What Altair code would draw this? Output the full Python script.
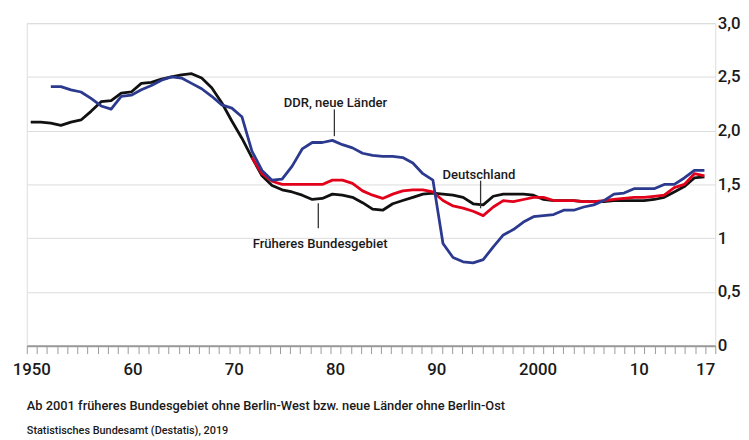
import altair as alt
import pandas as pd

# ---------------- data ----------------
years_west = list(range(1950, 2018))
west = [2.08, 2.08, 2.07, 2.05, 2.08, 2.10, 2.18, 2.27, 2.28, 2.35,
        2.36, 2.44, 2.45, 2.48, 2.50, 2.52, 2.53, 2.49, 2.40, 2.26,
        2.09, 1.93, 1.75, 1.58, 1.49, 1.45, 1.43, 1.40, 1.36, 1.37,
        1.41, 1.40, 1.38, 1.33, 1.27, 1.26, 1.32, 1.35, 1.38, 1.41,
        1.42, 1.41, 1.40, 1.38, 1.32, 1.31, 1.39, 1.41, 1.41, 1.41,
        1.40, 1.36, 1.35, 1.35, 1.35, 1.34, 1.34, 1.34, 1.35, 1.35,
        1.35, 1.35, 1.36, 1.38, 1.43, 1.48, 1.56, 1.57]

years_de = list(range(1972, 2018))
de = [1.75, 1.60, 1.53, 1.50, 1.50, 1.50, 1.50, 1.50,
      1.54, 1.54, 1.51, 1.44, 1.40, 1.37, 1.41, 1.44, 1.45, 1.45,
      1.43, 1.35, 1.30, 1.28, 1.25, 1.21, 1.29, 1.35, 1.34, 1.36,
      1.38, 1.38, 1.35, 1.35, 1.35, 1.34, 1.34, 1.35, 1.36, 1.37,
      1.38, 1.38, 1.39, 1.40, 1.47, 1.50, 1.60, 1.58]

years_east = list(range(1952, 2018))
east = [2.41, 2.41, 2.38, 2.36, 2.30, 2.23, 2.20, 2.32,
        2.33, 2.38, 2.42, 2.47, 2.50, 2.49, 2.44, 2.39, 2.32, 2.24,
        2.21, 2.13, 1.81, 1.63, 1.54, 1.55, 1.67, 1.83, 1.89, 1.89,
        1.91, 1.87, 1.84, 1.79, 1.77, 1.76, 1.76, 1.75, 1.70, 1.60,
        1.54, 0.95, 0.82, 0.78, 0.77, 0.80, 0.92, 1.03, 1.08, 1.15,
        1.20, 1.21, 1.22, 1.26, 1.26, 1.29, 1.31, 1.35, 1.41, 1.42,
        1.46, 1.46, 1.46, 1.50, 1.50, 1.56, 1.63, 1.63]

series_names = ["Früheres Bundesgebiet", "Deutschland", "DDR, neue Länder"]
series_colors = ["#111111", "#e2001a", "#2b3a8f"]

x_label_years = [1950, 1960, 1970, 1980, 1990, 2000, 2010, 2017]
x_label_texts = ["1950", "60", "70", "80", "90", "2000", "10", "17"]
y_ticks = [0, 0.5, 1, 1.5, 2, 2.5, 3]
y_tick_labels = ["0", "0,5", "1", "1,5", "2,0", "2,5", "3,0"]

ann_labels = ["DDR, neue Länder", "Deutschland", "Früheres Bundesgebiet"]
ann_year = [1980.3, 1994.57, 1978.78]
ann_value = [2.217, 1.554, 0.909]
lead_year = [1980.2, 1994.74, 1978.6]
lead_from = [2.198, 1.535, 1.324]
lead_to = [1.949, 1.278, 1.093]

footnote = "Ab 2001 früheres Bundesgebiet ohne Berlin-West bzw. neue Länder ohne Berlin-Ost"
source = "Statistisches Bundesamt (Destatis), 2019"

# ---------------- tables ----------------
df = pd.concat([
    pd.DataFrame({"year": years_west, "value": west, "series": series_names[0]}),
    pd.DataFrame({"year": years_de, "value": de, "series": series_names[1]}),
    pd.DataFrame({"year": years_east, "value": east, "series": series_names[2]}),
], ignore_index=True)

ann_df = pd.DataFrame({"year": ann_year, "value": ann_value, "label": ann_labels})
lead_df = pd.DataFrame({"year": lead_year, "value": lead_from, "value2": lead_to})

# ---------------- scales / axes ----------------
FONT = "Roboto"
TXT = "#1a1a1a"
X0, X1 = 1949.61, 2018.08
N_TICKS = 68
STEP = (X1 - X0) / N_TICKS
tick_vals = [X0 + k * STEP for k in range(N_TICKS + 1)]

k_expr = f"round((datum.value - {X0}) / {STEP})"
x_label_expr = " : ".join(
    f"{k_expr} == {y - 1950} ? '{t}'" for y, t in zip(x_label_years, x_label_texts)
) + " : ''"

y_label_expr = " : ".join(
    f"datum.value == {v} ? '{t}'" for v, t in zip(y_ticks, y_tick_labels)
) + " : ''"

x_enc = alt.X(
    "year:Q",
    title=None,
    scale=alt.Scale(domain=[X0, X1], nice=False, zero=False),
    axis=alt.Axis(
        values=tick_vals,
        labelExpr=x_label_expr,
        labelOverlap=False,
        labelBound=False,
        labelFlush=False,
        labelOffset={"condition": {"test": "datum.value > 2016", "value": 0}, "value": 4.5},
        labelFont=FONT,
        labelFontSize=17,
        labelFontWeight=500,
        labelColor=TXT,
        labelPadding=8,
        tickSize=8,
        tickColor="#9a9a9a",
        tickWidth=1,
        domainColor="#9a9a9a",
        domainWidth=2,
        grid=False,
    ),
)

y_enc = alt.Y(
    "value:Q",
    title=None,
    scale=alt.Scale(domain=[0, 3], nice=False),
    axis=alt.Axis(
        orient="right",
        values=y_ticks,
        labelExpr=y_label_expr,
        labelFont=FONT,
        labelFontSize=17,
        labelFontWeight=500,
        labelColor=TXT,
        labelAlign="left",
        labelBaseline="middle",
        labelPadding=2,
        ticks=False,
        domain=False,
        grid=True,
        gridColor="#dcdcdc",
        gridWidth=1,
    ),
)

layers = []
for name, col in zip(series_names, series_colors):
    layers.append(
        alt.Chart(df)
        .transform_filter(alt.datum.series == name)
        .mark_line(color=col, strokeWidth=2.8, strokeJoin="round")
        .encode(x=x_enc, y=y_enc)
    )

leaders = alt.Chart(lead_df).mark_rule(color="#333333", strokeWidth=1.3).encode(
    x=x_enc, y=y_enc, y2="value2:Q"
)
labels = alt.Chart(ann_df).mark_text(
    align="center", baseline="alphabetic", font=FONT, fontSize=13.2,
    fontWeight=500, color=TXT
).encode(x=x_enc, y=y_enc, text="label:N")

chart = (
    alt.layer(*layers, leaders, labels)
    .properties(
        width=696,
        height=326,
        autosize=alt.AutoSizeParams(type="none"),
        padding={"left": 19, "top": 13, "right": 26, "bottom": 93},
        title=alt.TitleParams(
            text=footnote,
            subtitle=source,
            orient="bottom",
            anchor="start",
            frame="group",
            font=FONT,
            fontSize=13,
            fontWeight=500,
            color=TXT,
            subtitleFont=FONT,
            subtitleFontSize=11,
            subtitleFontWeight=500,
            subtitleColor=TXT,
            subtitlePadding=12,
            offset=23,
        ),
    )
    .configure_view(stroke=None)
    .configure(background="white")
)

chart.save("out.html", embed_options={"renderer": "svg", "actions": False})
